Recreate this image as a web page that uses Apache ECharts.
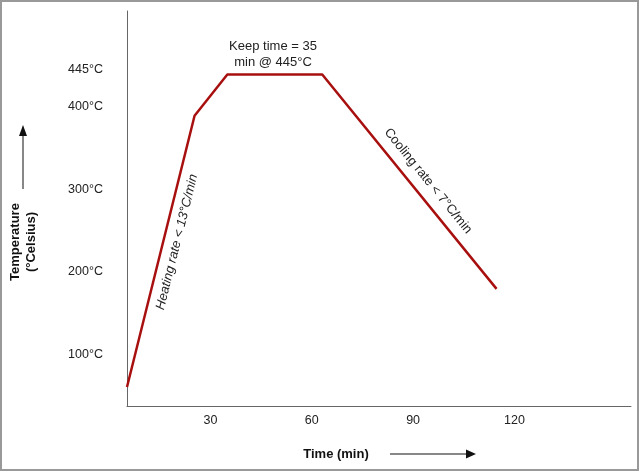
<!DOCTYPE html>
<html>
<head>
<meta charset="utf-8">
<script src="https://cdn.jsdelivr.net/npm/echarts@6/dist/echarts.min.js"></script>
<style>
html,body{margin:0;padding:0;background:#fff;}
#chart{width:640px;height:472px;}
</style>
</head>
<body>
<div id="chart"></div>
<script>
const timeMin = [5.3, 25.3, 35, 63.1, 114.7];
const tempC = [60, 389, 439, 439, 179];
const xTickLabels = [30, 60, 90, 120];
const yTickLabels = [100, 200, 300, 400, 445];
const keepLabel = 'Keep time = 35\nmin @ 445°C';
const heatLabel = 'Heating rate < 13°C/min';
const coolLabel = 'Cooling rate < 7°C/min';
const xName = 'Time (min)';
const yName = 'Temperature\n(°Celsius)';

const FONT = '"Liberation Sans", Arial, sans-serif';
const chart = echarts.init(document.getElementById('chart'), null, {renderer: 'canvas'});
const deg = Math.PI / 180;

chart.setOption({
  animation: false,
  backgroundColor: '#fff',
  grid: {left: 127, right: 9, top: 11, bottom: 66},
  xAxis: {
    type: 'value', min: 5.3, max: 154.5,
    axisLine: {show: true, onZero: false, lineStyle: {color: '#666', width: 1}},
    axisTick: {show: false},
    splitLine: {show: false},
    axisLabel: {customValues: xTickLabels, color: '#222', fontFamily: FONT, fontSize: 12.5, margin: 8}
  },
  yAxis: {
    type: 'value', min: 37, max: 516,
    axisLine: {show: true, onZero: false, lineStyle: {color: '#666', width: 1}},
    axisTick: {show: false},
    splitLine: {show: false},
    axisLabel: {customValues: yTickLabels, formatter: '{value}°C', color: '#222', fontFamily: FONT, fontSize: 12.5, margin: 24}
  },
  series: [{
    type: 'line',
    data: timeMin.map((t, i) => [t, tempC[i]]),
    symbol: 'none',
    lineStyle: {color: '#a8100f', width: 2.5}
  }],
  graphic: [
    {type: 'rect', shape: {x: 1, y: 1, width: 637, height: 469}, style: {fill: 'none', stroke: '#999', lineWidth: 2}, silent: true},
    {type: 'text', x: 273, y: 54, style: {text: keepLabel, font: '13px ' + FONT, fill: '#222', align: 'center', verticalAlign: 'middle', lineHeight: 16}},
    {type: 'text', x: 177, y: 242, rotation: 76 * deg, style: {text: heatLabel, font: 'italic 13px ' + FONT, fill: '#222', align: 'center', verticalAlign: 'middle'}},
    {type: 'text', x: 428, y: 181, rotation: -51 * deg, style: {text: coolLabel, font: '13px ' + FONT, fill: '#222', align: 'center', verticalAlign: 'middle'}},
    {type: 'text', x: 23.5, y: 242, rotation: 90 * deg, style: {text: yName, font: 'bold 13px ' + FONT, fill: '#111', align: 'center', verticalAlign: 'middle', lineHeight: 16}},
    {type: 'text', x: 336, y: 454, style: {text: xName, font: 'bold 13px ' + FONT, fill: '#111', align: 'center', verticalAlign: 'middle'}},
    {type: 'line', shape: {x1: 23, y1: 136, x2: 23, y2: 189}, style: {stroke: '#111', lineWidth: 1}},
    {type: 'polygon', shape: {points: [[23, 125], [19, 136], [27, 136]]}, style: {fill: '#111'}},
    {type: 'line', shape: {x1: 390, y1: 454, x2: 467, y2: 454}, style: {stroke: '#111', lineWidth: 1}},
    {type: 'polygon', shape: {points: [[476, 454], [466, 449.5], [466, 458.5]]}, style: {fill: '#111'}}
  ]
});
</script>
</body>
</html>
